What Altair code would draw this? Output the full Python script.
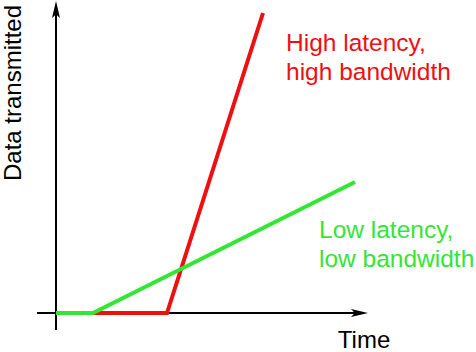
import altair as alt
import pandas as pd

# ---- data (arbitrary units: time to the right, data transmitted upwards) ----
red_time = [0, 11.1, 20.7]
red_data = [0, 0, 30.0]
green_time = [0, 3.7, 29.9]
green_data = [0, 0, 13.1]

series_names = ["High latency, high bandwidth", "Low latency, low bandwidth"]
series_colors = ["#ee1010", "#33e633"]

label_lines = ["High latency,", "high bandwidth", "Low latency,", "low bandwidth"]
label_series = [series_names[0], series_names[0], series_names[1], series_names[1]]
label_time = [23.0, 23.0, 26.3, 26.3]
label_data = [26.2, 23.3, 7.5, 4.6]

x_axis_label = "Time"
y_axis_label = "Data transmitted"
x_extent = [-1.9, 30.5]
y_extent = [-1.7, 29.5]
arrow_pos = 30.35

X_DOMAIN = [-5.6, 42.0]
Y_DOMAIN = [-3.9, 31.3]
FONT = "Liberation Sans"

xs = alt.Scale(domain=X_DOMAIN, nice=False, zero=False)
ys = alt.Scale(domain=Y_DOMAIN, nice=False, zero=False)
cs = alt.Scale(domain=series_names, range=series_colors)

lines_df = pd.DataFrame({
    "time": red_time + green_time,
    "data": red_data + green_data,
    "series": [series_names[0]] * len(red_time) + [series_names[1]] * len(green_time),
    "order": list(range(len(red_time))) + list(range(len(green_time))),
})

labels_df = pd.DataFrame({
    "text": label_lines, "series": label_series,
    "time": label_time, "data": label_data,
})

axes_df = pd.DataFrame({
    "x": [x_extent[0], 0], "x2": [arrow_pos, 0],
    "y": [0, y_extent[0]], "y2": [0, arrow_pos],
})

# axis lines
axes = alt.Chart(axes_df).mark_rule(color="black", strokeWidth=2).encode(
    x=alt.X("x:Q", scale=xs, axis=None),
    x2="x2:Q",
    y=alt.Y("y:Q", scale=ys, axis=None),
    y2="y2:Q",
)

up_arrow = alt.Chart(pd.DataFrame({"x": [0], "y": [arrow_pos]})).mark_point(
    shape="M0,-1L0.47,1L0,0.55L-0.47,1Z", filled=True, size=289,
    color="black", opacity=1, strokeWidth=0,
).encode(x=alt.X("x:Q", scale=xs, axis=None), y=alt.Y("y:Q", scale=ys, axis=None))

right_arrow = alt.Chart(pd.DataFrame({"x": [arrow_pos], "y": [0]})).mark_point(
    shape="M1,0L-1,0.47L-0.55,0L-1,-0.47Z", filled=True, size=289,
    color="black", opacity=1, strokeWidth=0,
).encode(x=alt.X("x:Q", scale=xs, axis=None), y=alt.Y("y:Q", scale=ys, axis=None))

series_lines = alt.Chart(lines_df).mark_line(strokeWidth=4, strokeJoin="miter", strokeCap="butt").encode(
    x=alt.X("time:Q", scale=xs, axis=None),
    y=alt.Y("data:Q", scale=ys, axis=None),
    color=alt.Color("series:N", scale=cs, legend=None),
    detail="series:N",
    order="order:Q",
)

labels = alt.Chart(labels_df).mark_text(
    align="left", baseline="alphabetic", font=FONT, fontSize=24.5,
).encode(
    x=alt.X("time:Q", scale=xs, axis=None),
    y=alt.Y("data:Q", scale=ys, axis=None),
    text="text:N",
    color=alt.Color("series:N", scale=cs, legend=None),
)

x_title = alt.Chart(pd.DataFrame({"x": [30.8], "y": [-3.45], "t": [x_axis_label]})).mark_text(
    align="center", baseline="alphabetic", font=FONT, fontSize=24, color="black",
).encode(x=alt.X("x:Q", scale=xs, axis=None), y=alt.Y("y:Q", scale=ys, axis=None), text="t:N")

y_title = alt.Chart(pd.DataFrame({"x": [-3.55], "y": [22.0], "t": [y_axis_label]})).mark_text(
    align="center", baseline="alphabetic", font=FONT, fontSize=24, color="black", angle=270,
).encode(x=alt.X("x:Q", scale=xs, axis=None), y=alt.Y("y:Q", scale=ys, axis=None), text="t:N")

chart = alt.layer(
    axes, up_arrow, right_arrow, series_lines, labels, x_title, y_title
).properties(
    width=476, height=352, padding=0,
    autosize=alt.AutoSizeParams(type="none"),
).configure_view(stroke=None)

chart.save("out.html", embed_options={"renderer": "svg", "actions": False})
